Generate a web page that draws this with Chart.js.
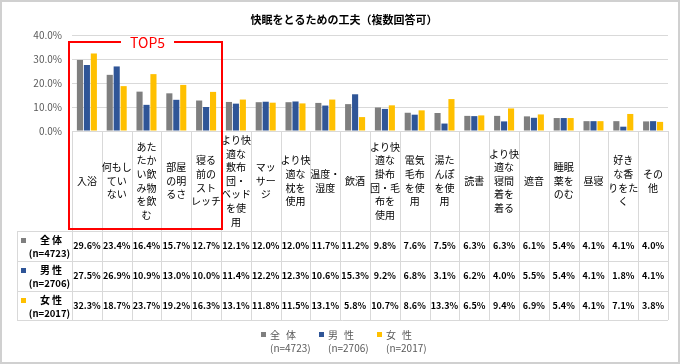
<!DOCTYPE html>
<html>
<head>
<meta charset="utf-8">
<script src="https://cdn.jsdelivr.net/npm/chart.js@4.4.1/dist/chart.umd.min.js"></script>
<style>
  body { margin: 0; background: #fff; }
  #wrap { width: 680px; height: 364px; }
</style>
</head>
<body>
<div id="wrap"><canvas id="myChart" width="680" height="364"></canvas></div>
<script>
// categories, split into the lines shown under each column
const categories = [
    ['入浴'], ['何もし', 'てい', 'ない'], ['あた', 'たか', 'い飲', 'み物', 'を飲', 'む'],
    ['部屋', 'の明', 'るさ'], ['寝る', '前の', 'スト', 'レッチ'],
    ['より快', '適な', '敷布', '団・', 'ベッド', 'を使', '用'], ['マッ', 'サー', 'ジ'],
    ['より快', '適な', '枕を', '使用'], ['温度・', '湿度'], ['飲酒'],
    ['より快', '適な', '掛布', '団・毛', '布を', '使用'], ['電気', '毛布', 'を使', '用'],
    ['湯た', 'んぽ', 'を使', '用'], ['読書'], ['より快', '適な', '寝間', '着を', '着る'],
    ['遮音'], ['睡眠', '薬を', 'のむ'], ['昼寝'], ['好き', 'な香', 'りをた', 'く'], ['その', '他']
];
const seriesNames = ['全体', '男性', '女性'];
const sampleSizes = ['(n=4723)', '(n=2706)', '(n=2017)'];
const allValues = [29.6, 23.4, 16.4, 15.7, 12.7, 12.1, 12.0, 12.0, 11.7, 11.2, 9.8, 7.6, 7.5, 6.3, 6.3, 6.1, 5.4, 4.1, 4.1, 4.0];
const maleValues = [27.5, 26.9, 10.9, 13.0, 10.0, 11.4, 12.2, 12.3, 10.6, 15.3, 9.2, 6.8, 3.1, 6.2, 4.0, 5.5, 5.4, 4.1, 1.8, 4.1];
const femaleValues = [32.3, 18.7, 23.7, 19.2, 16.3, 13.1, 11.8, 11.5, 13.1, 5.8, 10.7, 8.6, 13.3, 6.5, 9.4, 6.9, 5.4, 4.1, 7.1, 3.8];
const yTicks = [0, 10, 20, 30, 40];
const topCount = 5;
const chartTitle = '快眠をとるための工夫（複数回答可）';

const colors = ['#7f7f7f', '#2f5597', '#ffc000'];
const gridColor = '#d9d9d9';
const jpFont = '"Noto Sans CJK JP", "Noto Sans", sans-serif';

const tablePlugin = {
    id: 'tablePlugin',
    beforeDraw(chart) {
        const ctx = chart.ctx;
        ctx.save();
        ctx.fillStyle = '#fff';
        ctx.fillRect(0, 0, chart.width, chart.height);
        ctx.strokeStyle = '#d0d0d0';
        ctx.lineWidth = 2;
        ctx.strokeRect(1, 1, chart.width - 2, chart.height - 2);
        ctx.restore();
    },
    afterDraw(chart) {
        const ctx = chart.ctx;
        const area = chart.chartArea;
        const xs = chart.scales.x;
        const colW = area.width / categories.length;
        const colLeft = i => xs.getPixelForValue(i) - colW / 2;
        const tableLeft = 17;
        const labelBottom = 231;
        const rowH = 30;
        const rowTops = [labelBottom, labelBottom + rowH, labelBottom + rowH * 2];
        const tableBottom = labelBottom + rowH * 3 - 1;
        const valueRows = [allValues, maleValues, femaleValues];

        ctx.save();
        // title
        ctx.fillStyle = '#000';
        ctx.font = 'bold 11px ' + jpFont;
        ctx.textAlign = 'center';
        ctx.textBaseline = 'middle';
        ctx.fillText(chartTitle, 344, 20);

        // table lines
        ctx.strokeStyle = gridColor;
        ctx.lineWidth = 1;
        ctx.beginPath();
        for (let i = 0; i <= categories.length; i++) {
            const x = Math.round(colLeft(i)) + 0.5;
            ctx.moveTo(x, area.bottom);
            ctx.lineTo(x, tableBottom);
        }
        ctx.moveTo(tableLeft + 0.5, labelBottom);
        ctx.lineTo(tableLeft + 0.5, tableBottom);
        rowTops.concat([tableBottom]).forEach(y => {
            ctx.moveTo(tableLeft, Math.round(y) + 0.5);
            ctx.lineTo(area.right, Math.round(y) + 0.5);
        });
        ctx.stroke();

        // category labels
        ctx.fillStyle = '#000';
        ctx.font = '10px ' + jpFont;
        const lineH = 13.6;
        const midY = 181;
        categories.forEach((lines, i) => {
            const x = xs.getPixelForValue(i);
            const y0 = midY - (lines.length - 1) * lineH / 2;
            lines.forEach((t, k) => ctx.fillText(t, x, y0 + k * lineH));
        });

        // value rows
        ctx.font = 'bold 9px ' + jpFont;
        valueRows.forEach((vals, r) => {
            const y = rowTops[r] + rowH / 2;
            vals.forEach((v, i) => {
                ctx.fillText(v.toFixed(1) + '%', xs.getPixelForValue(i), y);
            });
        });

        // row headers
        seriesNames.forEach((name, r) => {
            const top = rowTops[r];
            ctx.fillStyle = colors[r];
            ctx.fillRect(21, top + 7, 5, 5);
            ctx.fillStyle = '#000';
            ctx.font = 'bold 10px ' + jpFont;
            ctx.letterSpacing = '2px';
            ctx.fillText(name, 52, top + 9);
            ctx.letterSpacing = '0px';
            ctx.font = 'bold 9.5px ' + jpFont;
            ctx.fillText(sampleSizes[r], 49.5, top + 22);
        });

        // TOP5 box
        const boxL = colLeft(0) - 3;
        const boxR = colLeft(topCount) + 1;
        const boxT = 42;
        const boxB = 229;
        ctx.strokeStyle = '#ff0000';
        ctx.lineWidth = 2;
        ctx.strokeRect(boxL, boxT, boxR - boxL, boxB - boxT);
        ctx.font = '14px ' + jpFont;
        const tx = (boxL + boxR) / 2 + 2;
        const tw = ctx.measureText('TOP5').width;
        ctx.fillStyle = '#fff';
        ctx.fillRect(tx - tw / 2 - 9, boxT - 3, tw + 18, 6);
        ctx.fillStyle = '#ff0000';
        ctx.fillText('TOP5', tx, boxT + 1);

        // legend
        ctx.textAlign = 'left';
        seriesNames.forEach((name, r) => {
            const lx = 261 + r * 58;
            ctx.fillStyle = colors[r];
            ctx.fillRect(lx, 332, 5, 5);
            ctx.fillStyle = '#595959';
            ctx.font = '10px ' + jpFont;
            ctx.letterSpacing = '6px';
            ctx.fillText(name, lx + 9, 335);
            ctx.letterSpacing = '0px';
            ctx.fillText(sampleSizes[r], lx + 9, 348);
        });
        ctx.restore();
    }
};

const ctx = document.getElementById('myChart');
const myChart = new Chart(ctx, {
    type: 'bar',
    data: {
        labels: categories,
        datasets: [
            { label: seriesNames[0], data: allValues, backgroundColor: colors[0] },
            { label: seriesNames[1], data: maleValues, backgroundColor: colors[1] },
            { label: seriesNames[2], data: femaleValues, backgroundColor: colors[2] }
        ]
    },
    options: {
        responsive: false,
        animation: false,
        layout: { padding: { top: 35, left: 0, right: 12, bottom: 233 } },
        datasets: { bar: { categoryPercentage: 0.7, barPercentage: 0.88 } },
        scales: {
            x: { display: false },
            y: {
                min: 0,
                max: 40,
                afterFit(scale) { scale.width = 72; },
                afterBuildTicks(scale) { scale.ticks = yTicks.map(v => ({ value: v })); },
                border: { display: false },
                grid: { color: gridColor, drawTicks: false },
                ticks: {
                    padding: 10,
                    color: '#595959',
                    font: { size: 10, family: jpFont },
                    callback: v => v.toFixed(1) + '%'
                }
            }
        },
        plugins: {
            legend: { display: false },
            tooltip: { enabled: false }
        }
    },
    plugins: [tablePlugin]
});
</script>
</body>
</html>
